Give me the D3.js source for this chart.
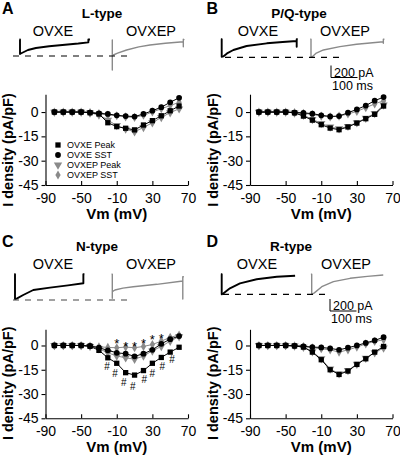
<!DOCTYPE html>
<html><head><meta charset="utf-8">
<script src="https://cdn.jsdelivr.net/npm/d3@7"></script>
<style>body{margin:0;background:#fff}svg{display:block}text{font-family:"Liberation Sans",Arial,sans-serif}</style>
</head><body>
<svg id="chart" width="400" height="457"></svg>
<script>
// ---------- data ----------
const voltages = [-80,-70,-60,-50,-40,-30,-20,-10,0,10,20,30,40,50,60];
const seriesNames = ["OVXE Peak","OVXE SST","OVXEP Peak","OVXEP SST"];
const xTicks = [-90,-50,-10,30,70];
const yTicks = [0,-15,-30,-45];
const panelLetters = ["A","B","C","D"];
const panelTitles = ["L-type","P/Q-type","N-type","R-type"];
const groupNames = ["OVXE","OVXEP"];

// L-type
const lOvxePeak  = [0,0,0,0,-0.4,-1.2,-6.6,-9,-10,-11,-8,-5.3,-2.3,0.8,3.7];
const lOvxeSst   = [0,0,0,0,-0.3,-0.8,-1.2,-2,-2.5,-2.8,-1.2,0.8,3,6,8.8];
const lOvxepPeak = [0,0,0,0,-0.5,-1.8,-5,-8.3,-10.5,-12.2,-9.5,-6.6,-3.3,-0.4,2];
const lOvxepSst  = [0,0,0,0,-0.3,-1,-1.8,-2.3,-3,-3.3,-2,0,2,4,6];
// P/Q-type
const pqOvxePeak  = [0,0,0,0,-0.5,-2.5,-5,-7.8,-9.9,-10.9,-9.2,-6.8,-4.1,-1.4,3.7];
const pqOvxeSst   = [0,0,0,0,-0.3,-0.5,-1,-2,-2.7,-2.5,-0.4,1.6,4,7,9.2];
const pqOvxepPeak = [0,0,0,0,-0.5,-2,-4.5,-7,-9.2,-10.3,-8.8,-6.5,-3.8,-0.8,4.4];
const pqOvxepSst  = [0,0,0,0,-0.3,-0.8,-1.5,-2.5,-3,-2.5,-1.2,0.4,2.7,5,7];
// N-type
const nOvxePeak  = [0,0,0,0,-0.5,-3,-7.6,-11,-16.8,-18.3,-15.5,-11,-7.4,-4.1,-1.1];
const nOvxeSst   = [0,0,0,0,-0.3,-1.4,-3,-4.5,-5.1,-6.7,-5.1,-2.7,1,3.9,5.8];
const nOvxepPeak = [0,0,0,0,-0.5,-2,-4.5,-6.5,-7.6,-8.5,-6.5,-3.3,-0.6,2.7,5.5];
const nOvxepSst  = [0,0,0,0,-0.3,-0.8,-1.2,-1.4,-1,-1.4,-0.6,0.6,2.7,5,6.5];
// R-type
const rOvxePeak  = [0,0,0,0,-0.3,-1,-4.1,-8.8,-15,-17.9,-15.8,-11.7,-8.2,-4.1,-0.6];
const rOvxeSst   = [0,0,0,0,-0.2,-0.5,-1,-1.2,-1.8,-2.7,-1.4,0,1.6,3.1,5.1];
const rOvxepPeak = [0,0,0,0,-0.3,-1,-3.8,-8.2,-14.5,-17.5,-15.4,-11.5,-7.8,-4.5,-1.5];
const rOvxepSst  = [0,0,0,0,-0.2,-0.6,-1.4,-2,-2.7,-4.1,-2.7,-1,1,2.5,3.5];

// N-type significance marks
const starV = [-10,0,10,20,30,40];
const starY = [2.8,1.3,1.3,3,5.2,6.3];
const hashV = [-21,-12,-2,8,21,30,41,52];
const hashY = [-13,-17,-23,-25,-21,-17.4,-12.7,-8.4];

// example current traces: time (ms), current (pA)
const lOvxeT  = [-2,0,0,3,30,60,110,170,220,258,258,264];
const lOvxeI  = [0,0,-242,-233,-175,-142,-113,-88,-67,-47,0,0];
const lOvxepT = [-2,0,0,0,4,20,54,100,142,200,268,268,268,272];
const lOvxepI = [0,0,-500,-260,-250,-220,-167,-115,-83,-55,-28,-112,12,0];
const pqOvxeT  = [-3,0,0,6,20,44,94,170,230,283,283,283,287];
const pqOvxeI  = [0,0,-290,-285,-235,-178,-112,-67,-45,-28,-123,0,0];
const pqOvxepT = [-3,0,0,6,20,47,109,172,273,273,273,277];
const pqOvxepI = [0,0,-290,-285,-230,-178,-123,-83,-40,-67,0,0];
const nOvxeT  = [-3,0,0,8,31,69,132,200,258,258,262];
const nOvxeI  = [0,0,-412,-400,-345,-262,-223,-185,-150,0,0];
const nOvxepT = [-3,0,0,0,10,40,79,168,266,266,266,270];
const nOvxepI = [0,0,-400,-290,-262,-230,-207,-167,-112,-412,-40,-40];
const rOvxeT  = [-3,0,0,6,31,69,132,208,277];
const rOvxeI  = [0,0,-333,-320,-233,-150,-83,-40,-23];
const rOvxepT = [-3,0,0,10,38,82,145,210,270];
const rOvxepI = [0,0,-333,-310,-207,-123,-67,-35,-12];

const scaleBarPA = 200, scaleBarMs = 100;

// ---------- layout ----------
const BLACK = "#000", GRAY = "#8a8a8a";
const svg = d3.select("#chart");

const panels = [
  {series:[lOvxePeak,lOvxeSst,lOvxepPeak,lOvxepSst],
   traces:[[lOvxeT,lOvxeI],[lOvxepT,lOvxepI]],
   dx:0, dy:0, yTop:11, xr:[45.5,188], yr:[185,94.2],
   tOrig:[[20,39.5],[112.3,40]], dash:[13,130,56], titleX:102, grpX:[53,151], legend:true, scalebar:false},
  {series:[pqOvxePeak,pqOvxeSst,pqOvxepPeak,pqOvxepSst],
   traces:[[pqOvxeT,pqOvxeI],[pqOvxepT,pqOvxepI]],
   dx:204.5, dy:0, yTop:11, xr:[250,392.5], yr:[185,94.2],
   tOrig:[[221.7,39.3],[311,39.3]], dash:[225,340,57.3], titleX:299, grpX:[258,345], legend:false, scalebar:[331,77.5]},
  {series:[nOvxePeak,nOvxeSst,nOvxepPeak,nOvxepSst],
   traces:[[nOvxeT,nOvxeI],[nOvxepT,nOvxepI]],
   dx:0, dy:233.4, yTop:10, xr:[45.5,188], yr:[418.3,329.3],
   tOrig:[[15,274.3],[112.3,274.3]], dash:[13,130,300], titleX:97, grpX:[53,151], legend:false, scalebar:false, marks:true},
  {series:[rOvxePeak,rOvxeSst,rOvxepPeak,rOvxepSst],
   traces:[[rOvxeT,rOvxeI],[rOvxepT,rOvxepI]],
   dx:204.5, dy:233.4, yTop:10, xr:[250,392.5], yr:[418.3,329.3],
   tOrig:[[221.7,274.3],[311.7,274.3]], dash:[223,330,294.3], titleX:291, grpX:[257,346], legend:false, scalebar:[330,311]}
];

const seriesStyle = [
  {sym:d3.symbolSquare, size:28, color:BLACK, rot:0},
  {sym:d3.symbolCircle, size:26, color:BLACK, rot:0},
  {sym:d3.symbolTriangle, size:30, color:GRAY, rot:180},
  {sym:d3.symbolDiamond, size:24, color:GRAY, rot:0}
];
const drawOrder = [3,2,1,0];

panels.forEach((p, pi) => {
  const g = svg.append("g");
  const x = d3.scaleLinear().domain([-90,70]).range(p.xr);
  const y = d3.scaleLinear().domain([-45,p.yTop]).range(p.yr);

  // panel letter & title
  g.append("text").attr("x", 2 + p.dx).attr("y", 14 + p.dy)
    .attr("font-size", 16).attr("font-weight", "bold").text(panelLetters[pi]);
  g.append("text").attr("x", p.titleX).attr("y", 18 + p.dy).attr("text-anchor","middle")
    .attr("font-size", 13.5).attr("font-weight", "bold").text(panelTitles[pi]);
  groupNames.forEach((gn, gi) => {
    g.append("text").attr("x", p.grpX[gi]).attr("y", 35.5 + p.dy).attr("text-anchor","middle")
      .attr("font-size", 14.5).text(gn);
  });

  // traces
  p.traces.forEach((tr, ti) => {
    const [ox, oy] = p.tOrig[ti];
    const tx = d3.scaleLinear().domain([0, scaleBarMs]).range([ox, ox + 26.5]);
    const ty = d3.scaleLinear().domain([0, -scaleBarPA]).range([oy, oy + 12]);
    const pts = tr[0].map((t, k) => [tx(t), ty(tr[1][k])]);
    g.append("path").attr("d", d3.line()(pts)).attr("fill","none")
      .attr("stroke", ti === 0 ? BLACK : GRAY).attr("stroke-width", ti === 0 ? 1.9 : 1.4)
      .attr("stroke-linejoin","round");
  });
  g.append("line").attr("x1", p.dash[0]).attr("x2", p.dash[1]).attr("y1", p.dash[2]).attr("y2", p.dash[2])
    .attr("stroke", pi === 2 ? "#444" : BLACK).attr("stroke-width", 1.2).attr("stroke-dasharray","6,6");

  if (p.scalebar) {
    const [sx, sy] = p.scalebar;
    const tx = d3.scaleLinear().domain([0, scaleBarMs]).range([sx, sx + 26.5]);
    const ty = d3.scaleLinear().domain([0, scaleBarPA]).range([sy, sy - 12]);
    g.append("path").attr("d", d3.line()([[tx(0), ty(scaleBarPA)],[tx(0), ty(0)],[tx(scaleBarMs), ty(0)]]))
      .attr("fill","none").attr("stroke", BLACK).attr("stroke-width", 1);
    g.append("text").attr("x", sx + 3).attr("y", sy - 1).attr("font-size", 12.5).text(scaleBarPA + " pA");
    g.append("text").attr("x", sx + 1).attr("y", sy + 12).attr("font-size", 12.5).text(scaleBarMs + " ms");
  }

  // axes
  const xAxis = d3.axisBottom(x).tickValues(xTicks).tickSize(-4).tickSizeOuter(0).tickPadding(8)
    .tickFormat(d => String(d));
  const yAxis = d3.axisLeft(y).tickValues(yTicks).tickSize(4).tickSizeOuter(0).tickPadding(3)
    .tickFormat(d => String(d));
  const gx = g.append("g").attr("transform", `translate(0,${y(-45)})`).call(xAxis);
  const gy = g.append("g").attr("transform", `translate(${x(-90)},0)`).call(yAxis);
  [gx, gy].forEach(a => {
    a.selectAll("text").attr("font-size", 14).attr("font-family", '"Liberation Sans", Arial, sans-serif').attr("fill", BLACK);
    a.selectAll("line,path").attr("stroke", BLACK).attr("stroke-width", 1.1);
  });
  g.append("text").attr("x", (p.xr[0] + p.xr[1]) / 2).attr("y", y(-45) + 34).attr("text-anchor","middle")
    .attr("font-size", 15).attr("font-weight","bold").text("Vm (mV)");
  g.append("text").attr("transform", `translate(${13 + p.dx},${y(-45) - 35}) rotate(-90)`)
    .attr("text-anchor","middle").attr("font-size", 14.5).attr("font-weight","bold").text("I density (pA/pF)");

  // series
  drawOrder.forEach(si => {
    const vals = p.series[si];
    const st = seriesStyle[si];
    const pts = voltages.map((v, k) => [x(v), y(vals[k])]);
    g.append("path").attr("d", d3.line()(pts)).attr("fill","none")
      .attr("stroke", st.color).attr("stroke-width", 1);
    g.selectAll(null).data(pts).enter().append("path")
      .attr("d", d3.symbol().type(st.sym).size(st.size))
      .attr("transform", d => `translate(${d[0]},${d[1]}) rotate(${st.rot})`)
      .attr("fill", st.color);
  });

  if (p.marks) {
    starV.forEach((v, k) => {
      g.append("text").attr("x", x(v)).attr("y", y(starY[k]) + 0.57 * 13).attr("text-anchor","middle")
        .attr("font-size", 13).attr("fill", BLACK).text("*");
    });
    hashV.forEach((v, k) => {
      g.append("text").attr("x", x(v)).attr("y", y(hashY[k]) + 0.36 * 10).attr("text-anchor","middle")
        .attr("font-size", 10).attr("fill", BLACK).text("#");
    });
  }

  if (p.legend) {
    seriesNames.forEach((nm, k) => {
      const st = seriesStyle[k];
      const ly = 145 + k * 10;
      g.append("path").attr("d", d3.symbol().type(st.sym).size(st.size))
        .attr("transform", `translate(58,${ly}) rotate(${st.rot})`).attr("fill", st.color);
      g.append("text").attr("x", 67).attr("y", ly + 3.3).attr("font-size", 9).text(nm);
    });
  }
});
</script>
</body></html>
